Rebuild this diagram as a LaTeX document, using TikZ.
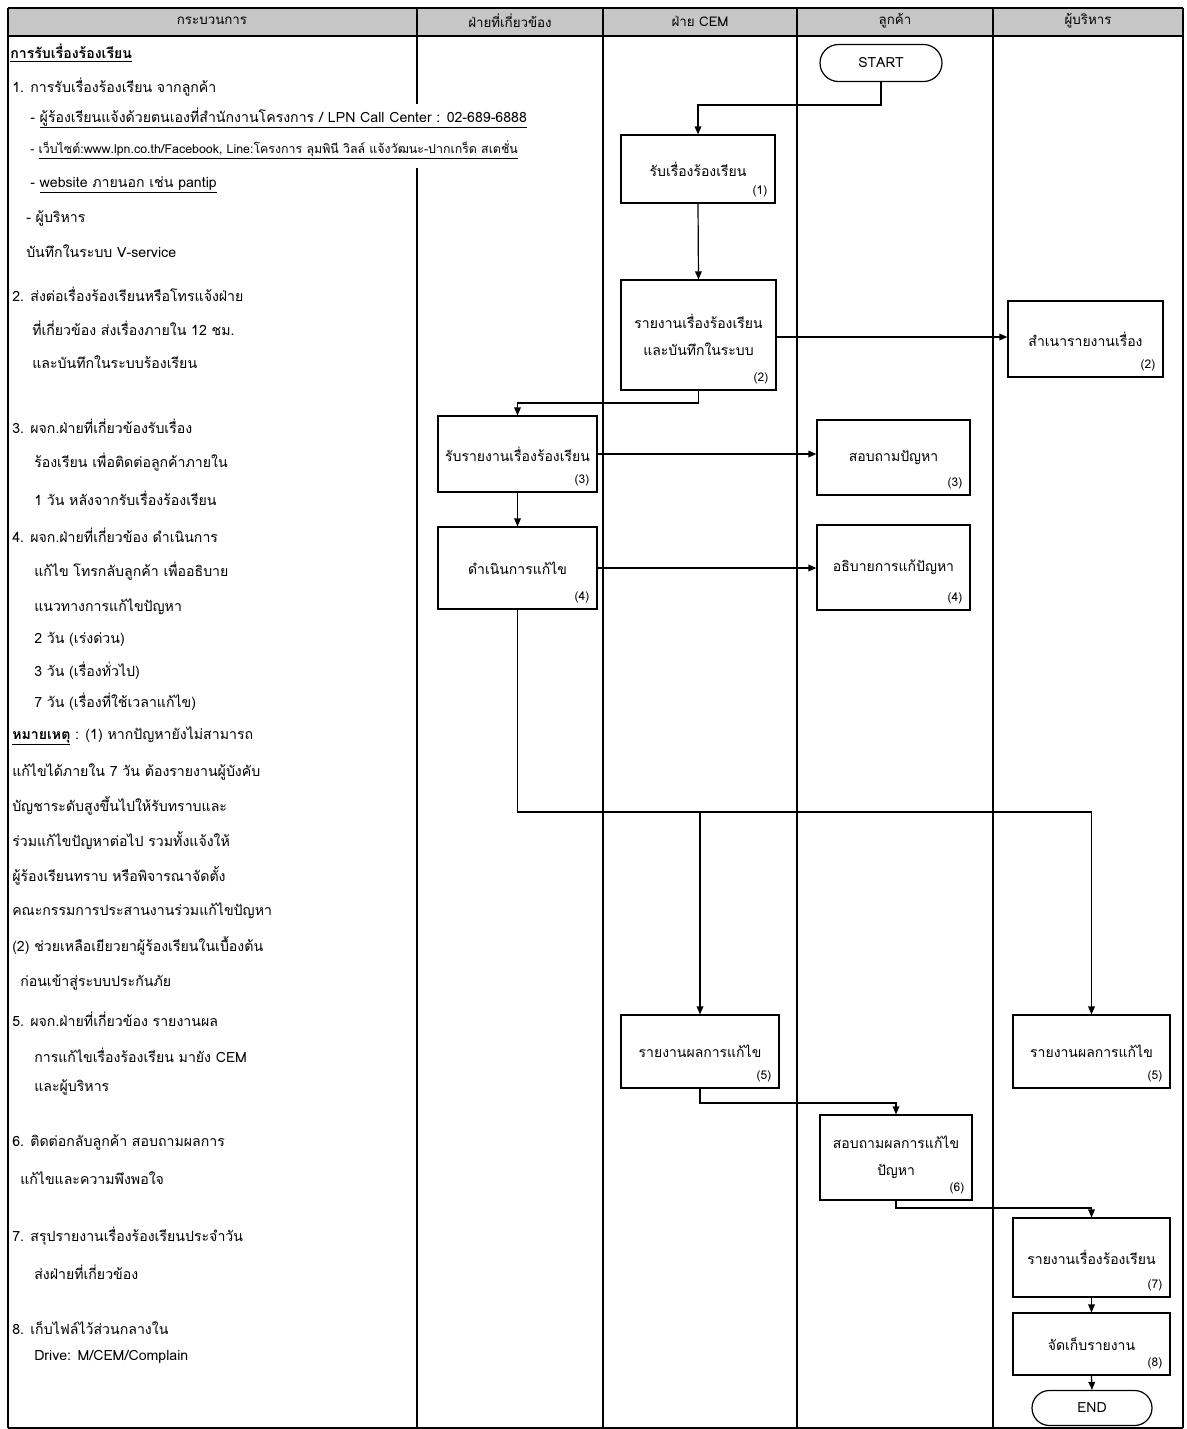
\documentclass[tikz,border=0pt]{standalone}
\usepackage{fontspec}
\setmainfont[Script=Thai]{Loma}
\usetikzlibrary{arrows.meta,shapes.misc}
\tikzset{
  box/.style={draw, line width=0.9pt, inner sep=0pt, align=center, font=\fontsize{10.5}{20}\selectfont},
  num/.style={inner sep=0pt, font=\fontsize{9}{10}\selectfont},
  term/.style={draw, line width=0.9pt, rounded rectangle, inner sep=0pt, font=\fontsize{10.5}{12}\selectfont},
  arr/.style={line width=0.9pt, -{Triangle[length=6pt,width=5pt]}},
  lane/.style={line width=1.1pt},
  hdr/.style={inner sep=0pt, font=\fontsize{10}{11}\selectfont},
  txt/.style={anchor=west, inner sep=0pt, font=\fontsize{10.6}{12}\selectfont},
  stxt/.style={anchor=west, inner sep=0pt, font=\fontsize{9.3}{10}\selectfont}
}
\newcommand\mybox[7]{%
  \node[box, minimum width={(#4-#2)*0.75pt}, minimum height={(#5-#3)*0.75pt}] (#1) at ({(#2+#4)/2},{(#3+#5)/2}) {#6};
  \node[num, anchor=south east] (#1n) at ([xshift=-6pt,yshift=5pt]#1.south east) {#7};}
\begin{document}
\begin{tikzpicture}[x=0.75pt,y=-0.75pt]
\useasboundingbox (0,0) rectangle (1187,1429);
% header
\fill[gray!45] (8,8) rectangle (1183,36);
\draw[lane] (8,8) -- (1183,8);
\draw[line width=1.6pt] (8,36) -- (1183,36);
\draw[lane] (8,8) -- (8,1428);
\draw[lane] (1183,8) -- (1183,1428);
\draw[lane] (8,1428) -- (1183,1428);
\draw[lane] (417,8) -- (417,104);
\draw[lane] (417,168) -- (417,1428);
\draw[lane] (603,8) -- (603,1428);
\draw[lane] (797,8) -- (797,1428);
\draw[lane] (993,8) -- (993,1428);
\node[hdr] (h1) at (212,21) {กระบวนการ};
\node[hdr] (h2) at (510,21) {ฝ่ายที่เกี่ยวข้อง};
\node[hdr] (h3) at (700,21) {ฝ่าย CEM};
\node[hdr] (h4) at (895,21) {ลูกค้า};
\node[hdr] (h5) at (1088,21) {ผู้บริหาร};
% left column text
\node[txt] (t0) at (10,53) {\textbf{\underline{การรับเรื่องร้องเรียน}}};
\node[txt] (t1) at (12,87) {1. การรับเรื่องร้องเรียน จากลูกค้า};
\node[txt] (t2) at (30,118) {- \underline{ผู้ร้องเรียนแจ้งด้วยตนเองที่สำนักงานโครงการ / LPN Call Center : 02-689-6888}};
\node[stxt] (t3) at (30,150) {- \underline{เว็บไซต์:www.lpn.co.th/Facebook, Line:โครงการ ลุมพินี วิลล์ แจ้งวัฒนะ-ปากเกร็ด สเตชั่น}};
\node[txt] (t4) at (30,185) {- \underline{website ภายนอก เช่น pantip}};
\node[txt] (t5) at (26,218) {- ผู้บริหาร};
\node[txt] (t6) at (26,251) {บันทึกในระบบ V-service};
\node[txt] (t7) at (12,294) {2. ส่งต่อเรื่องร้องเรียนหรือโทรแจ้งฝ่าย};
\node[txt] (t8) at (32,328) {ที่เกี่ยวข้อง ส่งเรื่องภายใน 12 ชม.};
\node[txt] (t9) at (32,362) {และบันทึกในระบบร้องเรียน};
\node[txt] (t10) at (12,426) {3. ผจก.ฝ่ายที่เกี่ยวข้องรับเรื่อง};
\node[txt] (t11) at (34,462) {ร้องเรียน เพื่อติดต่อลูกค้าภายใน};
\node[txt] (t12) at (34,498) {1 วัน หลังจากรับเรื่องร้องเรียน};
\node[txt] (t13) at (12,535) {4. ผจก.ฝ่ายที่เกี่ยวข้อง ดำเนินการ};
\node[txt] (t14) at (34,571) {แก้ไข โทรกลับลูกค้า เพื่ออธิบาย};
\node[txt] (t15) at (34,607) {แนวทางการแก้ไขปัญหา};
\node[txt] (t16) at (34,639) {2 วัน (เร่งด่วน)};
\node[txt] (t17) at (34,671) {3 วัน (เรื่องทั่วไป)};
\node[txt] (t18) at (34,702) {7 วัน (เรื่องที่ใช้เวลาแก้ไข)};
\node[txt] (t19) at (12,736) {\textbf{\underline{หมายเหตุ}} : (1) หากปัญหายังไม่สามารถ};
\node[txt] (t20) at (12,772) {แก้ไขได้ภายใน 7 วัน ต้องรายงานผู้บังคับ};
\node[txt] (t21) at (12,806) {บัญชาระดับสูงขึ้นไปให้รับทราบและ};
\node[txt] (t22) at (12,841) {ร่วมแก้ไขปัญหาต่อไป รวมทั้งแจ้งให้};
\node[txt] (t23) at (12,876) {ผู้ร้องเรียนทราบ หรือพิจารณาจัดตั้ง};
\node[txt] (t24) at (12,911) {คณะกรรมการประสานงานร่วมแก้ไขปัญหา};
\node[txt] (t25) at (12,946) {(2) ช่วยเหลือเยียวยาผู้ร้องเรียนในเบื้องต้น};
\node[txt] (t26) at (20,982) {ก่อนเข้าสู่ระบบประกันภัย};
\node[txt] (t27) at (12,1019) {5. ผจก.ฝ่ายที่เกี่ยวข้อง รายงานผล};
\node[txt] (t28) at (34,1055) {การแก้ไขเรื่องร้องเรียน มายัง CEM};
\node[txt] (t29) at (34,1087) {และผู้บริหาร};
\node[txt] (t30) at (12,1142) {6. ติดต่อกลับลูกค้า สอบถามผลการ};
\node[txt] (t31) at (20,1178) {แก้ไขและความพึงพอใจ};
\node[txt] (t32) at (12,1236) {7. สรุปรายงานเรื่องร้องเรียนประจำวัน};
\node[txt] (t33) at (34,1272) {ส่งฝ่ายที่เกี่ยวข้อง};
\node[txt] (t34) at (12,1328) {8. เก็บไฟล์ไว้ส่วนกลางใน};
\node[txt] (t35) at (34,1357) {Drive: M/CEM/Complain};
% flow nodes
\node[term, minimum width={122*0.75pt}, minimum height={37*0.75pt}] (start) at (881,63) {START};
\mybox{b1}{621}{135}{775}{203}{รับเรื่องร้องเรียน}{(1)}
\mybox{b2}{621}{280}{776}{390}{รายงานเรื่องร้องเรียน\\และบันทึกในระบบ}{(2)}
\mybox{b2b}{1008}{301}{1163}{377}{สำเนารายงานเรื่อง}{(2)}
\mybox{b3}{438}{416}{597}{492}{รับรายงานเรื่องร้องเรียน}{(3)}
\mybox{b3b}{817}{420}{970}{495}{สอบถามปัญหา}{(3)}
\mybox{b4}{438}{527}{597}{609}{ดำเนินการแก้ไข}{(4)}
\mybox{b4b}{817}{525}{970}{610}{อธิบายการแก้ปัญหา}{(4)}
\mybox{b5}{621}{1015}{779}{1088}{รายงานผลการแก้ไข}{(5)}
\mybox{b5b}{1013}{1015}{1170}{1088}{รายงานผลการแก้ไข}{(5)}
\mybox{b6}{820}{1115}{972}{1200}{สอบถามผลการแก้ไข\\ปัญหา}{(6)}
\mybox{b7}{1013}{1218}{1170}{1297}{รายงานเรื่องร้องเรียน}{(7)}
\mybox{b8}{1013}{1313}{1170}{1375}{จัดเก็บรายงาน}{(8)}
\node[term, minimum width={120*0.75pt}, minimum height={35*0.75pt}] (end) at (1092,1408) {END};
% connectors
\draw[arr] (start.south) -- (start.south |- 0,105) -| (b1.north);
\draw[arr] (b1.south) -- (b2.north);
\draw[arr] (b2.east |- 0,337) -- (b2b.west |- 0,337);
\draw[arr] (b2.south) -- (b2.south |- 0,403) -| (b3.north);
\draw[arr] (b3.east) -- (b3.east -| b3b.west);
\draw[arr] (b3.south) -- (b4.north);
\draw[arr] (b4.east) -- (b4.east -| b4b.west);
\draw[arr] (b4.south) -- (b4.south |- 0,812) -| (b5b.north);
\draw[arr] (b5.north |- 0,812) -- (b5.north);
\draw[arr] (b5.south) -- (b5.south |- 0,1103) -| (b6.north);
\draw[arr] (b6.south) -- (b6.south |- 0,1208) -| (b7.north);
\draw[arr] (b7.south) -- (b8.north);
\draw[arr] (b8.south) -- (end.north);
\end{tikzpicture}
\end{document}
